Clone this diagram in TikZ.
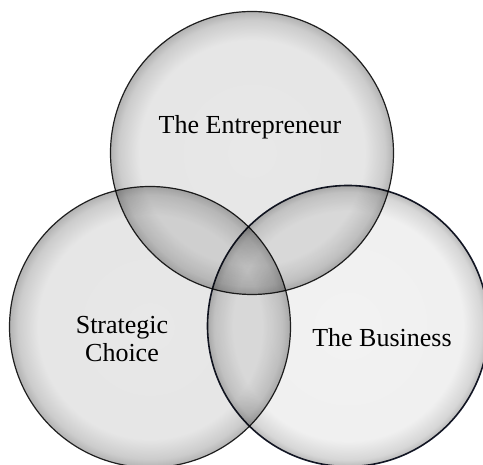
\documentclass[tikz,border=0pt]{standalone}
\usepackage{fontspec}
\setmainfont{Liberation Serif}
\pgfdeclareradialshading{ballgray}{\pgfpointorigin}{color(0bp)=(black!9); color(20bp)=(black!10); color(23.5bp)=(black!20); color(25bp)=(black!30); color(50bp)=(black!30)}
\pgfdeclareradialshading{balllight}{\pgfpointorigin}{color(0bp)=(black!5); color(20.5bp)=(black!6); color(23.8bp)=(black!16); color(25bp)=(black!27); color(50bp)=(black!27)}
\begin{document}
\begin{tikzpicture}[x=1pt, y=1pt, line join=round,
	vring/.style={circle, inner sep=0pt, outer sep=0pt, minimum size=281pt, draw=black!85, line width=1.2pt, shade, blend mode=multiply},
	vtext/.style={font=\fontsize{26}{28}\selectfont, align=center, inner sep=0pt}]
	\useasboundingbox (0,0) rectangle (483,465);
	\clip (0,0) rectangle (483,465);
	
	% Kreise
	\node[vring, shading=ballgray] (strat) at (150,138) {};
	\node[vring, shading=ballgray, minimum size=283pt] (entre) at (252,312) {};
	\node[vring, shading=balllight, draw={rgb,255:red,22;green,26;blue,42}, line width=1.6pt] (busi) at (348,139) {};
	
	% Beschriftungen
	\node[vtext] (tentre) at (250,338) {The Entrepreneur};
	\node[vtext] (tstrat) at (122,126) {Strategic\\Choice};
	\node[vtext] (tbusi) at (382,127) {The Business};
	
\end{tikzpicture}
\end{document}
